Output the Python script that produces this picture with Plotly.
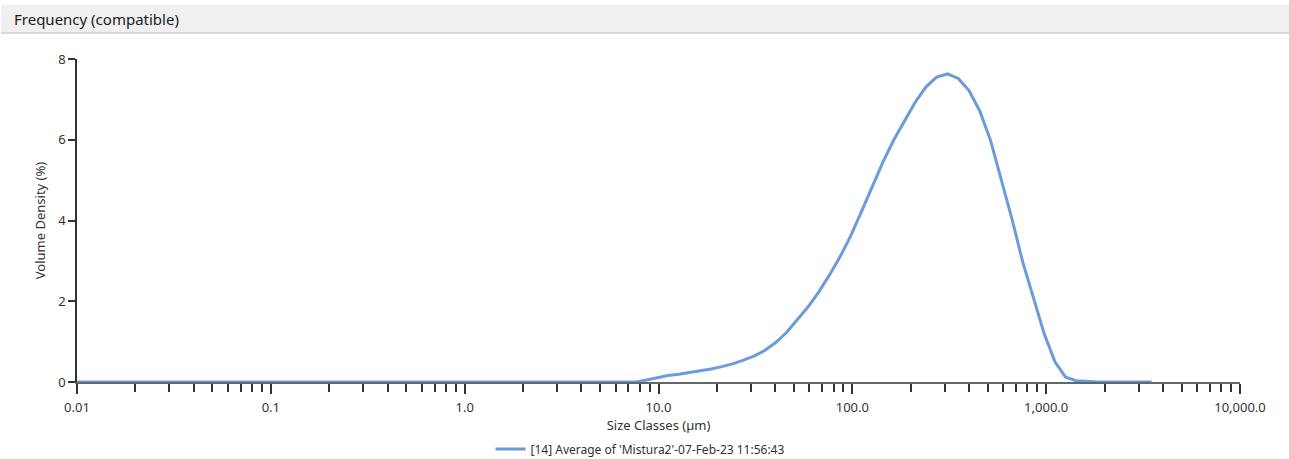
import plotly.graph_objects as go

# Size classes (µm) of the analyser, log-spaced from 0.01 to 3500
size_classes = [
    0.01, 0.0114, 0.0129, 0.0147, 0.0167, 0.0189, 0.0215, 0.0244, 0.0278, 0.0315,
    0.0358, 0.0407, 0.0463, 0.0526, 0.0597, 0.0679, 0.0771, 0.0876, 0.0995, 0.113,
    0.128, 0.146, 0.166, 0.188, 0.214, 0.243, 0.276, 0.314, 0.357, 0.405,
    0.46, 0.523, 0.594, 0.675, 0.767, 0.872, 0.991, 1.13, 1.28, 1.45,
    1.65, 1.88, 2.13, 2.42, 2.75, 3.12, 3.55, 4.03, 4.58, 5.21,
    5.92, 6.72, 7.64, 8.68, 9.86, 11.2, 12.7, 14.5, 16.4, 18.7,
    21.2, 24.1, 27.4, 31.1, 35.3, 40.1, 45.6, 51.8, 58.9, 66.9,
    76.0, 86.4, 98.1, 111, 127, 144, 163, 186, 211, 240,
    272, 310, 352, 400, 454, 516, 586, 666, 756, 859,
    976, 1110, 1260, 1430, 1630, 1850, 2100, 2390, 2710, 3080,
    3500,
]

# Volume density (%) for each size class
volume_density = [
    0, 0, 0, 0, 0, 0, 0, 0, 0, 0,
    0, 0, 0, 0, 0, 0, 0, 0, 0, 0,
    0, 0, 0, 0, 0, 0, 0, 0, 0, 0,
    0, 0, 0, 0, 0, 0, 0, 0, 0, 0,
    0, 0, 0, 0, 0, 0, 0, 0, 0, 0,
    0, 0, 0, 0.05, 0.11, 0.16, 0.19, 0.23, 0.27, 0.32,
    0.38, 0.45, 0.54, 0.64, 0.78, 0.97, 1.22, 1.52, 1.85, 2.22,
    2.64, 3.10, 3.62, 4.20, 4.86, 5.45, 5.98, 6.48, 6.93, 7.31,
    7.55, 7.63, 7.52, 7.22, 6.72, 5.99, 5.03, 4.04, 2.98, 2.09,
    1.20, 0.50, 0.12, 0.03, 0.01, 0, 0, 0, 0, 0,
    0,
]

series_name = "[14] Average of 'Mistura2'-07-Feb-23 11:56:43"
panel_title = "Frequency (compatible)"
x_title = "Size Classes (µm)"
y_title = "Volume Density (%)"

x_major = [0.01, 0.1, 1, 10, 100, 1000, 10000]
x_major_text = ["0.01", "0.1", "1.0", "10.0", "100.0", "1,000.0", "10,000.0"]
x_minor = [m * d for d in [0.01, 0.1, 1, 10, 100, 1000] for m in range(2, 10)]

FONT = "Noto Sans"
W, H = 1289, 459

fig = go.Figure()
fig.add_trace(go.Scatter(
    x=size_classes, y=volume_density, mode="lines", name=series_name,
    line=dict(color="#6b9bdb", width=3),
))

# Panel header bar (container-pixel placement)
fig.add_shape(type="rect", xref="paper", yref="paper",
              x0=-76 / 1163, x1=1.05, y0=1 + (59 - 33) / 323, y1=1 + (59 - 5) / 323,
              fillcolor="#f0f0f0", line=dict(width=0), layer="below")
fig.add_shape(type="line", xref="paper", yref="paper",
              x0=-76 / 1163, x1=1.05, y0=1 + (59 - 33) / 323, y1=1 + (59 - 33) / 323,
              line=dict(color="#cfcfcf", width=1.5))
fig.add_annotation(text=panel_title, xref="paper", yref="paper",
                   x=-65 / 1163, y=1 + (59 - 19.5) / 323, xanchor="left", yanchor="middle",
                   showarrow=False, font=dict(family=FONT, size=15, color="#1a1a1a"))

fig.update_layout(
    width=W, height=H,
    margin=dict(l=77, r=49, t=59, b=77, autoexpand=False),
    paper_bgcolor="white", plot_bgcolor="white",
    font=dict(family=FONT, size=13, color="#333333"),
    showlegend=True,
    legend=dict(orientation="h", xref="container", yref="container",
                x=640 / W, xanchor="center",
                y=1 - 449 / H, yanchor="middle",
                font=dict(family=FONT, size=12, color="#333333"),
                bgcolor="rgba(0,0,0,0)"),
    xaxis=dict(
        type="log", range=[-2, 4], automargin=False,
        tickmode="array", tickvals=x_major, ticktext=x_major_text,
        ticks="outside", ticklen=10, tickwidth=1.5, tickcolor="#333333",
        ticklabelstandoff=2,
        minor=dict(tickmode="array", tickvals=x_minor, ticks="outside",
                   ticklen=8, tickwidth=1.5, tickcolor="#333333", showgrid=False),
        showline=True, linecolor="#666666", linewidth=2,
        showgrid=False, zeroline=False, layer="below traces",
        title=dict(text=x_title, standoff=10, font=dict(family=FONT, size=13, color="#333333")),
        tickfont=dict(family=FONT, size=13, color="#333333"),
    ),
    yaxis=dict(
        range=[0, 8], dtick=2, tick0=0, automargin=False,
        ticks="outside", ticklen=7, tickwidth=1.5, tickcolor="#333333",
        showline=True, linecolor="#333333", linewidth=1.5,
        showgrid=False, zeroline=False,
        title=dict(text=y_title, standoff=10, font=dict(family=FONT, size=13, color="#333333")),
        tickfont=dict(family=FONT, size=13, color="#333333"),
    ),
)

fig.write_html("out.html")
